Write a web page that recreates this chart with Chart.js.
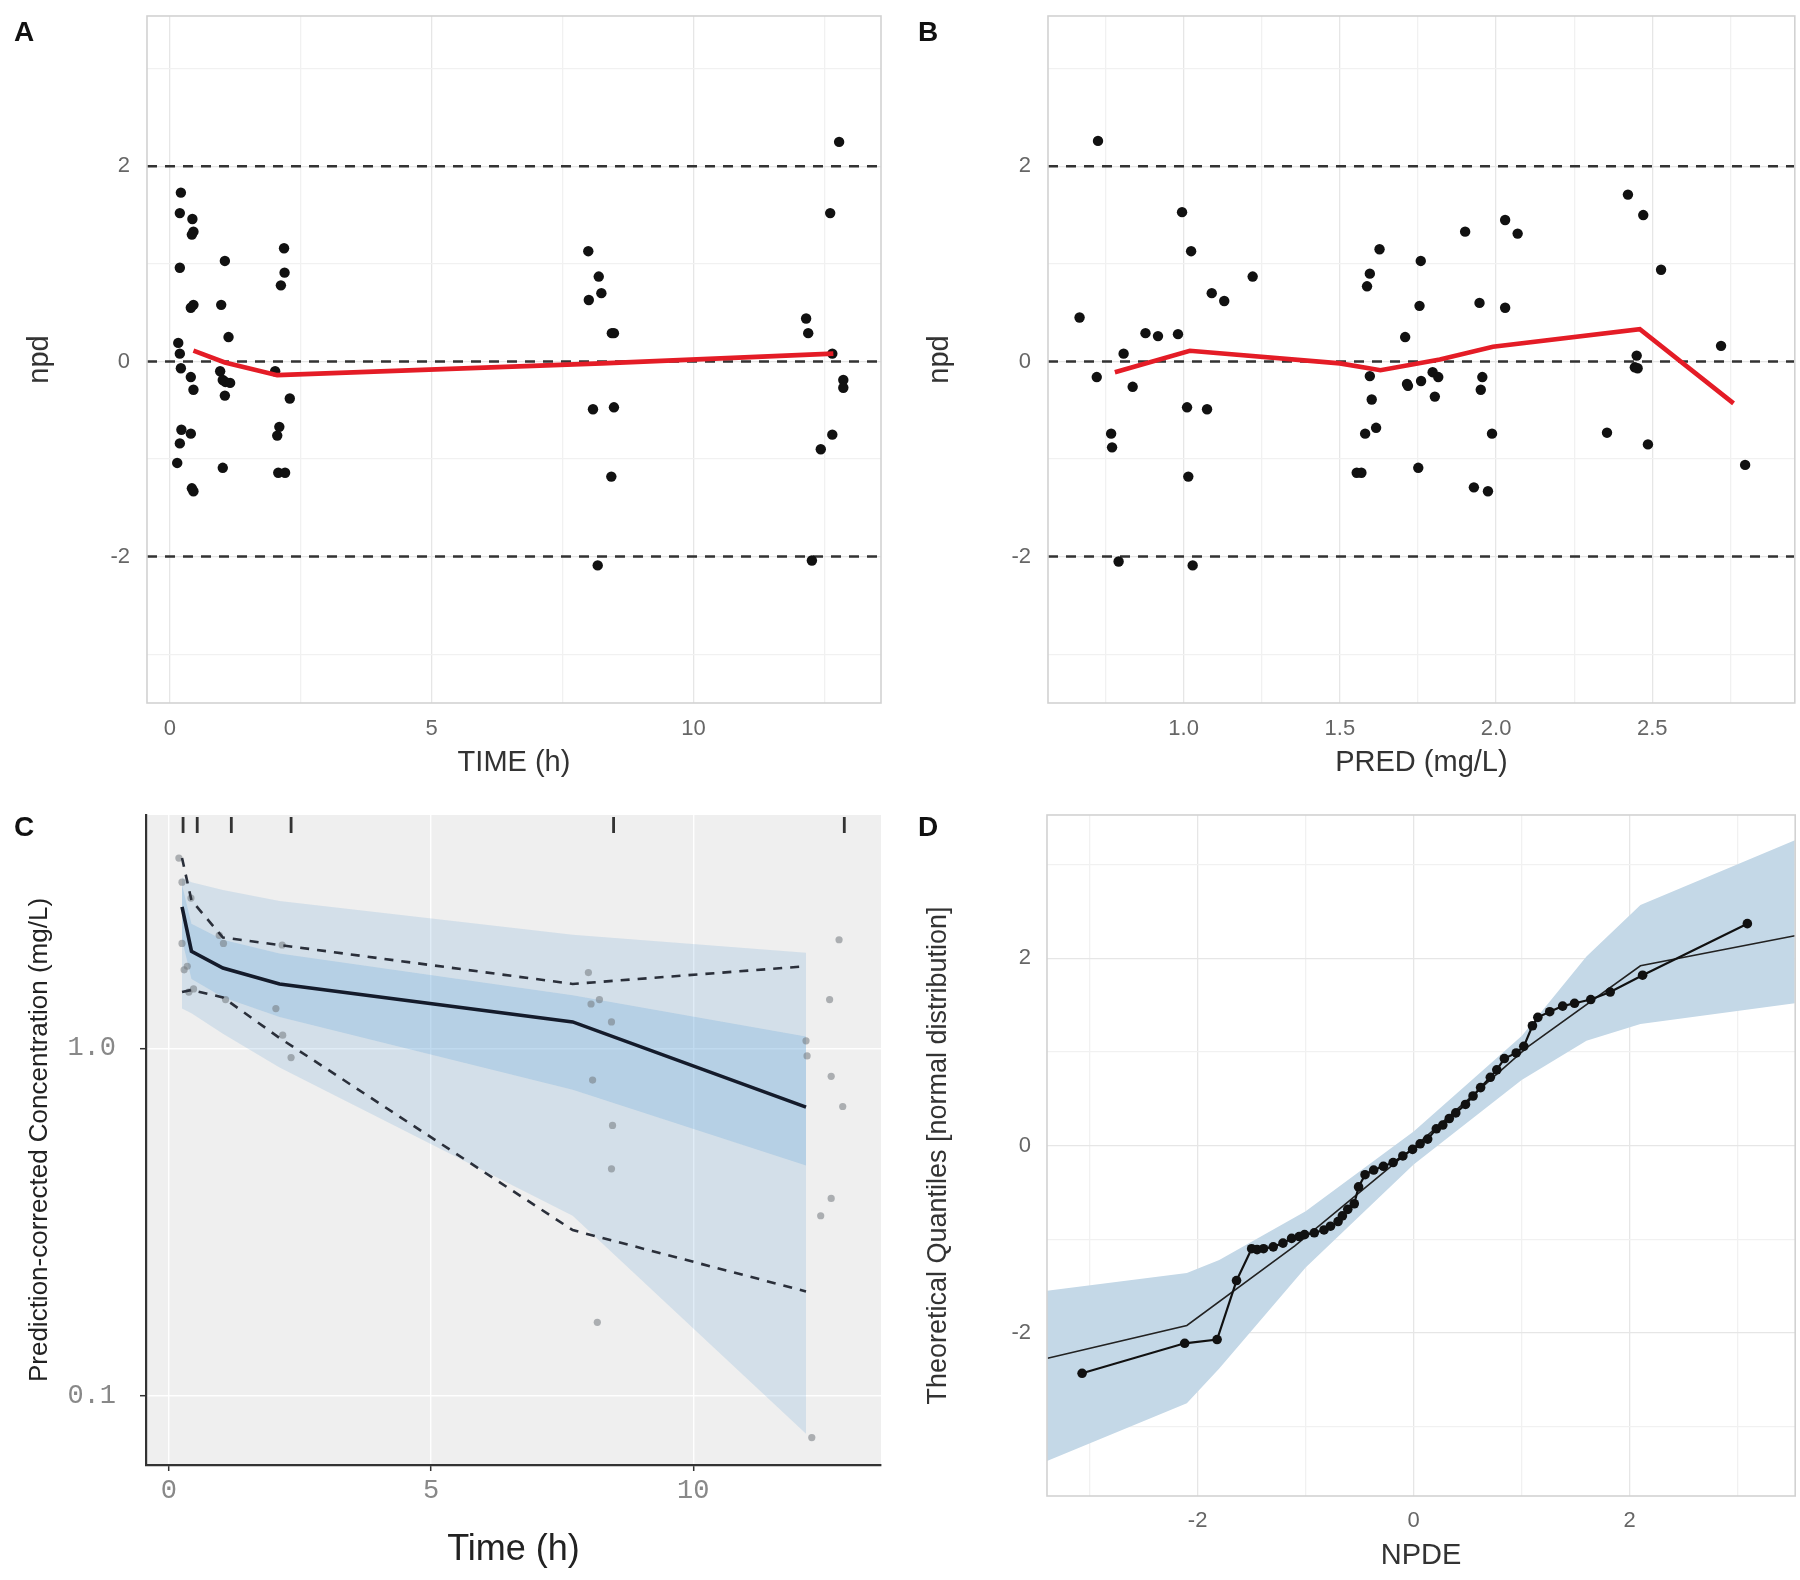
<!DOCTYPE html>
<html><head><meta charset="utf-8">
<script src="https://cdn.jsdelivr.net/npm/chart.js@4.4.1/dist/chart.umd.min.js"></script>
<style>
html,body{margin:0;padding:0;background:#fff;}
body{width:1800px;height:1580px;position:relative;overflow:hidden;}
canvas{position:absolute;}
.lbl{position:absolute;font:bold 28px "Liberation Sans",Arial,sans-serif;color:#111;line-height:1;}
</style></head><body>
<canvas id="cA" width="900" height="790" style="left:0;top:0"></canvas>
<canvas id="cB" width="900" height="790" style="left:900px;top:0"></canvas>
<canvas id="cC" width="900" height="790" style="left:0;top:790px"></canvas>
<canvas id="cD" width="900" height="790" style="left:900px;top:790px"></canvas>
<div class="lbl" style="left:14px;top:18px">A</div>
<div class="lbl" style="left:918px;top:18px">B</div>
<div class="lbl" style="left:14px;top:813px">C</div>
<div class="lbl" style="left:918px;top:813px">D</div>
<script>
// ---------------- DATA ----------------
// Panel A: npd vs TIME
const TIME_A = [0.21,0.19,0.43,0.45,0.42,0.19,0.45,0.40,0.16,0.19,0.21,0.40,0.45,0.22,0.40,0.19,0.14,0.42,0.45,
  1.05,0.98,1.12,0.96,1.01,1.06,1.15,1.05,1.01,
  2.18,2.19,2.12,2.01,2.29,2.09,2.05,2.07,2.20,
  7.99,8.19,8.24,8.00,8.44,8.48,8.08,8.48,8.43,8.17,
  12.78,12.61,12.15,12.19,12.65,12.86,12.86,12.65,12.43,12.26];
const NPD_A = [1.73,1.52,1.46,1.33,1.30,0.96,0.58,0.55,0.19,0.08,-0.07,-0.16,-0.29,-0.70,-0.74,-0.84,-1.04,-1.30,-1.33,
  1.03,0.58,0.25,-0.10,-0.19,-0.21,-0.22,-0.35,-1.09,
  1.16,0.91,0.78,-0.10,-0.38,-0.67,-0.76,-1.14,-1.14,
  1.13,0.87,0.70,0.63,0.29,0.29,-0.49,-0.47,-1.18,-2.09,
  2.25,1.52,0.44,0.29,0.08,-0.19,-0.27,-0.75,-0.90,-2.04];
const TREND_T_A = [0.45,1.05,2.05,8.25,12.67];
const TREND_A   = [0.11,-0.01,-0.14,-0.02,0.08];

// Panel B: npd vs PRED
const PRED_B = [0.726,0.667,0.722,0.808,0.837,0.768,0.771,0.792,0.878,0.918,0.982,0.995,1.024,1.011,1.075,1.015,1.029,
  1.090,1.130,1.221,1.587,1.596,1.627,1.596,1.602,1.616,1.581,1.554,1.569,1.709,1.715,1.718,1.760,1.759,1.755,1.751,
  1.797,1.815,1.804,1.901,1.947,1.956,1.951,1.987,1.929,1.974,2.029,2.069,2.029,2.422,2.471,2.528,2.450,2.444,2.453,
  2.355,2.486,2.720,2.797];
const NPD_B = [2.26,0.45,-0.16,0.08,-0.26,-0.74,-0.88,-2.05,0.29,0.26,0.28,1.53,1.13,-0.47,-0.49,-1.18,-2.09,
  0.70,0.62,0.87,0.77,0.90,1.15,-0.15,-0.39,-0.68,-0.74,-1.14,-1.14,0.25,-0.23,-0.25,-0.20,1.03,0.57,-1.09,
  -0.11,-0.16,-0.36,1.33,0.60,-0.16,-0.29,-0.74,-1.29,-1.33,1.45,1.31,0.55,1.71,1.50,0.94,0.06,-0.06,-0.07,
  -0.73,-0.85,0.16,-1.06];
const TREND_P_B = [0.78,1.02,1.50,1.63,1.82,1.99,2.46,2.76];
const TREND_B   = [-0.11,0.11,-0.02,-0.09,0.02,0.15,0.33,-0.43];

const REF_NPD = [-2,0,2];

// Panel C: pcVPC
const BIN_T     = [0.25,0.43,1.03,2.11,7.7,12.15];
const OBS_MED   = [2.55,1.90,1.70,1.53,1.19,0.677];
const OBS_P95   = [3.52,2.66,2.08,1.98,1.53,1.72];
const OBS_P05   = [1.45,1.47,1.40,1.07,0.30,0.20];
const P95_CI_HI = [3.10,3.00,2.85,2.65,2.12,1.88];
const MED_CI_HI = [2.95,2.28,2.05,1.87,1.42,1.08];
const MED_CI_LO = [2.05,1.58,1.40,1.23,0.76,0.46];
const P05_CI_LO = [1.30,1.26,1.10,0.88,0.33,0.078];
const OBS_T = [0.19,0.25,0.42,0.25,0.35,0.47,0.29,0.38,0.96,1.04,1.08,2.16,2.04,2.17,2.33,
  8.00,8.05,8.21,8.44,8.08,8.46,8.44,8.17,12.78,12.60,12.15,12.17,12.63,12.85,12.63,12.43,12.26];
const OBS_C = [3.52,3.00,2.70,2.00,1.72,1.48,1.68,1.45,2.11,2.00,1.38,1.98,1.30,1.09,0.94,
  1.65,1.34,1.38,1.19,0.81,0.60,0.45,0.163,2.05,1.38,1.05,0.95,0.83,0.68,0.37,0.33,0.076];
const RUG_T = [0.27,0.54,1.19,2.33,8.48,12.88];

// Panel D: QQ plot
const NPDE_X = [-3.07,-2.12,-1.82,-1.64,-1.50,-1.45,-1.39,-1.30,-1.21,-1.13,-1.06,-1.01,-0.92,-0.83,-0.77,-0.70,-0.66,
  -0.61,-0.55,-0.51,-0.45,-0.37,-0.28,-0.19,-0.10,-0.01,0.06,0.13,0.21,0.27,0.33,0.39,0.48,0.55,0.62,0.71,0.77,0.84,
  0.95,1.02,1.10,1.15,1.26,1.38,1.49,1.64,1.82,2.12,3.09];
const THEO_Y = [-2.43,-2.11,-2.07,-1.44,-1.10,-1.11,-1.10,-1.08,-1.04,-0.99,-0.97,-0.95,-0.93,-0.90,-0.86,-0.81,-0.75,
  -0.68,-0.62,-0.44,-0.31,-0.26,-0.22,-0.18,-0.11,-0.04,0.02,0.07,0.18,0.22,0.29,0.35,0.44,0.53,0.62,0.73,0.81,0.93,
  0.99,1.06,1.28,1.37,1.43,1.49,1.52,1.56,1.64,1.82,2.37];
const REF_X = [-3.39,-2.10,-1.10,0.00,1.05,2.10,3.53];
const REF_Y = [-2.27,-1.92,-1.07,-0.02,1.05,1.92,2.24];
const BAND_X  = [-3.40,-2.10,-1.80,-1.00,0.00,1.00,1.60,2.10,3.53];
const BAND_HI = [-1.55,-1.36,-1.22,-0.70,0.15,1.17,2.02,2.57,3.26];
const BAND_LO = [-3.37,-2.75,-2.38,-1.30,-0.20,0.70,1.12,1.30,1.52];

// ticks / grids
const X_GRID_A = [0,2.5,5,7.5,10,12.5], X_LAB_A = [0,5,10];
const X_GRID_B = [0.75,1.0,1.25,1.5,1.75,2.0,2.25,2.5,2.75], X_LAB_B = [1.0,1.5,2.0,2.5];
const Y_GRID_N = [-3,-2,-1,0,1,2,3], Y_LAB_N = [-2,0,2];
const X_TICK_C = [0,5,10], Y_TICK_C = [0.1,1];
const X_GRID_D = [-3,-2,-1,0,1,2,3], X_LAB_D = [-2,0,2];

// ---------------- STYLE / HELPERS ----------------
const SANS = '"Liberation Sans", Arial, sans-serif';
const MONO = '"Liberation Mono", "DejaVu Sans Mono", monospace';
const pts = (xs, ys) => xs.map((x, i) => ({x: x, y: ys[i]}));

Chart.register({
  id: 'panelBg',
  beforeDraw(chart, args, o) {
    if (!o || !o.color) return;
    const {ctx, chartArea: a} = chart;
    ctx.save(); ctx.fillStyle = o.color; ctx.fillRect(a.left, a.top, a.right - a.left, a.bottom - a.top); ctx.restore();
  }
});
Chart.register({
  id: 'hlines',
  beforeDatasetsDraw(chart, args, o) {
    if (!o || !o.values) return;
    const {ctx, chartArea: a, scales} = chart;
    ctx.save(); ctx.strokeStyle = o.color; ctx.lineWidth = o.width; ctx.setLineDash(o.dash);
    o.values.forEach(v => {
      const y = scales.y.getPixelForValue(v);
      ctx.beginPath(); ctx.moveTo(a.left, y); ctx.lineTo(a.right, y); ctx.stroke();
    });
    ctx.restore();
  }
});
Chart.register({
  id: 'rug',
  afterDatasetsDraw(chart, args, o) {
    if (!o || !o.values) return;
    const {ctx, chartArea: a, scales} = chart;
    ctx.save(); ctx.strokeStyle = o.color; ctx.lineWidth = o.width;
    o.values.forEach(v => {
      const x = scales.x.getPixelForValue(v);
      ctx.beginPath(); ctx.moveTo(x, a.top + 2); ctx.lineTo(x, a.top + o.len); ctx.stroke();
    });
    ctx.restore();
  }
});
Chart.register({
  id: 'box',
  afterDatasetsDraw(chart, args, o) {
    if (!o || !o.color) return;
    const {ctx, chartArea: a} = chart;
    ctx.save(); ctx.strokeStyle = o.color; ctx.lineWidth = o.width;
    ctx.strokeRect(a.left, a.top, a.right - a.left, a.bottom - a.top); ctx.restore();
  }
});

const setTicks = arr => s => { s.ticks = arr.map(v => ({value: v})); };
const fitW = w => s => { s.width = w; s.paddingTop = 0; s.paddingBottom = 0; };
const fitH = h => s => { s.height = h; s.paddingLeft = 0; s.paddingRight = 0; };
const gridCol = (labs, major, minor) => c => (c.tick && labs.indexOf(c.tick.value) >= 0) ? major : minor;
const base = (pad) => ({
  responsive: false, animation: false, devicePixelRatio: 1,
  layout: {padding: pad},
  plugins: {legend: {display: false}, tooltip: {enabled: false}}
});

function npdAxisY(title, w) {
  return {
    type: 'linear', min: -3.5, max: 3.54,
    afterBuildTicks: setTicks(Y_GRID_N), afterFit: fitW(w),
    grid: {color: gridCol(Y_LAB_N, '#e6e6e6', '#f1f1f1'), lineWidth: 1.3, drawTicks: false},
    border: {display: false},
    ticks: {autoSkip: false, padding: 17, color: '#666', font: {family: SANS, size: 22},
      callback: v => Y_LAB_N.indexOf(v) >= 0 ? String(v) : ''},
    title: {display: true, text: title, color: '#333', font: {family: SANS, size: 29}, padding: {top: 22.6, bottom: 0}}
  };
}
function npdAxisX(min, max, grid, labs, fmt, title) {
  return {
    type: 'linear', min: min, max: max,
    afterBuildTicks: setTicks(grid), afterFit: fitH(87),
    grid: {color: gridCol(labs, '#e6e6e6', '#f1f1f1'), lineWidth: 1.3, drawTicks: false},
    border: {display: false},
    ticks: {autoSkip: false, maxRotation: 0, padding: 12.8, color: '#666', font: {family: SANS, size: 22},
      callback: v => labs.indexOf(v) >= 0 ? fmt(v) : ''},
    title: {display: true, text: title, color: '#333', font: {family: SANS, size: 29}, padding: {top: 0, bottom: 9.6}}
  };
}
const hl = {values: REF_NPD, color: '#333', width: 2.5, dash: [10, 8]};
const redLine = (xs, ys) => ({data: pts(xs, ys), borderColor: 'rgb(228,28,38)', borderWidth: 4.6, pointRadius: 0, fill: false});
const blackPts = (xs, ys) => ({data: pts(xs, ys), showLine: false, pointRadius: 5.2, pointBackgroundColor: '#111', pointBorderWidth: 0, borderColor: '#111'});

// ---------------- PANEL A ----------------
(() => {
  const o = base({left: 0, top: 16, right: 19, bottom: 0});
  o.plugins.hlines = hl; o.plugins.box = {color: '#d2d2d2', width: 1.6};
  o.scales = {x: npdAxisX(-0.437, 13.58, X_GRID_A, X_LAB_A, v => String(v), 'TIME (h)'), y: npdAxisY('npd', 147)};
  new Chart(document.getElementById('cA'), {type: 'line',
    data: {datasets: [redLine(TREND_T_A, TREND_A), blackPts(TIME_A, NPD_A)]}, options: o});
})();

// ---------------- PANEL B ----------------
(() => {
  const o = base({left: 0, top: 16, right: 3, bottom: 0});
  o.plugins.hlines = hl; o.plugins.box = {color: '#d2d2d2', width: 1.6};
  o.scales = {x: npdAxisX(0.566, 2.956, X_GRID_B, X_LAB_B, v => v.toFixed(1), 'PRED (mg/L)'), y: npdAxisY('npd', 148)};
  new Chart(document.getElementById('cB'), {type: 'line',
    data: {datasets: [redLine(TREND_P_B, TREND_B), blackPts(PRED_B, NPD_B)]}, options: o});
})();

// ---------------- PANEL C ----------------
(() => {
  const o = base({left: 0, top: 25, right: 19, bottom: 0});
  o.plugins.panelBg = {color: '#efefef'};
  o.plugins.rug = {values: RUG_T, color: '#333', width: 2.8, len: 18};
  o.scales = {
    x: {type: 'linear', min: -0.437, max: 13.58, afterBuildTicks: setTicks(X_TICK_C), afterFit: fitH(115),
      grid: {color: 'rgba(255,255,255,0.9)', lineWidth: 1.4, drawTicks: true, tickLength: 6, tickColor: '#333', tickWidth: 1.5},
      border: {display: true, color: '#333', width: 2.2},
      ticks: {autoSkip: false, maxRotation: 0, padding: 3.8, color: '#888', font: {family: MONO, size: 27}, callback: v => String(v)},
      title: {display: true, text: 'Time (h)', color: '#222', font: {family: SANS, size: 36}, padding: {top: 0, bottom: 8.4}}},
    y: {type: 'logarithmic', min: 0.0634, max: 4.68, afterBuildTicks: setTicks(Y_TICK_C), afterFit: fitW(146),
      grid: {color: 'rgba(255,255,255,0.9)', lineWidth: 1.4, drawTicks: true, tickLength: 6, tickColor: '#333', tickWidth: 1.5},
      border: {display: true, color: '#333', width: 2.2},
      ticks: {autoSkip: false, padding: 24, color: '#888', font: {family: MONO, size: 27}, callback: v => v.toFixed(1)},
      title: {display: true, text: 'Prediction-corrected Concentration (mg/L)', color: '#222', font: {family: SANS, size: 26}, padding: {top: 24.4, bottom: 0}}}
  };
  const edge = (ys) => ({data: pts(BIN_T, ys), borderColor: 'rgba(0,0,0,0)', borderWidth: 0, pointRadius: 0});
  const ds = [
    {data: pts(BIN_T, OBS_MED), borderColor: '#141b2b', borderWidth: 3.6, pointRadius: 0, fill: false},
    {data: pts(BIN_T, OBS_P95), borderColor: '#2a2f3a', borderWidth: 2.6, borderDash: [9, 8], pointRadius: 0, fill: false},
    {data: pts(BIN_T, OBS_P05), borderColor: '#2a2f3a', borderWidth: 2.6, borderDash: [9, 8], pointRadius: 0, fill: false},
    {data: pts(OBS_T, OBS_C), showLine: false, pointRadius: 3.6, pointBackgroundColor: 'rgba(115,120,125,0.55)', pointBorderWidth: 0, borderColor: 'rgba(0,0,0,0)'},
    edge(MED_CI_LO),
    Object.assign(edge(MED_CI_HI), {fill: 4, backgroundColor: 'rgba(51,136,204,0.30)'}),
    Object.assign(edge(P95_CI_HI), {fill: 5, backgroundColor: 'rgba(51,136,204,0.15)'}),
    Object.assign(edge(P05_CI_LO), {fill: 4, backgroundColor: 'rgba(51,136,204,0.15)'})
  ];
  new Chart(document.getElementById('cC'), {type: 'line', data: {datasets: ds}, options: o});
})();

// ---------------- PANEL D ----------------
(() => {
  const o = base({left: 0, top: 25, right: 3, bottom: 0});
  o.plugins.box = {color: '#d2d2d2', width: 1.6};
  o.scales = {
    x: {type: 'linear', min: -3.395, max: 3.533, afterBuildTicks: setTicks(X_GRID_D), afterFit: fitH(84),
      grid: {color: gridCol(X_LAB_D, '#e6e6e6', '#f1f1f1'), lineWidth: 1.3, drawTicks: false}, border: {display: false},
      ticks: {autoSkip: false, maxRotation: 0, padding: 11.8, color: '#666', font: {family: SANS, size: 22},
        callback: v => X_LAB_D.indexOf(v) >= 0 ? String(v) : ''},
      title: {display: true, text: 'NPDE', color: '#333', font: {family: SANS, size: 29}, padding: {top: 0, bottom: 6.6}}},
    y: {type: 'linear', min: -3.74, max: 3.53, afterBuildTicks: setTicks(Y_GRID_N), afterFit: fitW(147),
      grid: {color: gridCol(Y_LAB_N, '#e6e6e6', '#f1f1f1'), lineWidth: 1.3, drawTicks: false}, border: {display: false},
      ticks: {autoSkip: false, padding: 16, color: '#666', font: {family: SANS, size: 22},
        callback: v => Y_LAB_N.indexOf(v) >= 0 ? String(v) : ''},
      title: {display: true, text: 'Theoretical Quantiles [normal distribution]', color: '#333', font: {family: SANS, size: 27}, padding: {top: 22.8, bottom: 0}}}
  };
  const ds = [
    {data: pts(NPDE_X, THEO_Y), showLine: true, borderColor: '#111', borderWidth: 2.2, pointRadius: 4.8, pointBackgroundColor: '#111', pointBorderWidth: 0, fill: false},
    {data: pts(REF_X, REF_Y), borderColor: '#222', borderWidth: 1.6, pointRadius: 0, fill: false},
    {data: pts(BAND_X, BAND_LO), borderColor: 'rgba(0,0,0,0)', borderWidth: 0, pointRadius: 0},
    {data: pts(BAND_X, BAND_HI), borderColor: 'rgba(0,0,0,0)', borderWidth: 0, pointRadius: 0, fill: 2, backgroundColor: 'rgb(196,216,231)'}
  ];
  new Chart(document.getElementById('cD'), {type: 'line', data: {datasets: ds}, options: o});
})();
</script>
</body></html>
